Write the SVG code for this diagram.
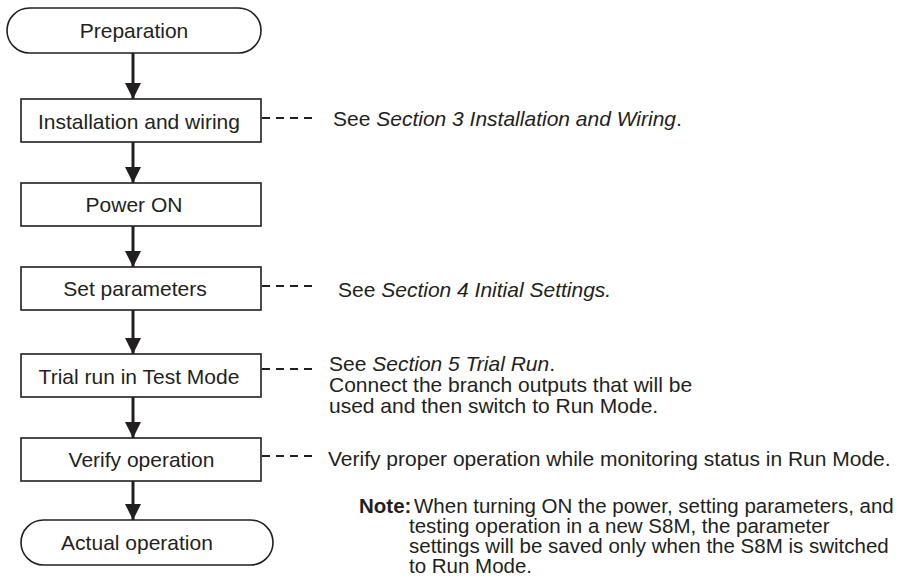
<svg xmlns="http://www.w3.org/2000/svg" width="903" height="579" viewBox="0 0 903 579">
<defs>
<style>
.shape{fill:#fff;stroke:#231f20;stroke-width:1.6}
.lbl{font-family:"Liberation Sans",Arial,Helvetica,sans-serif;font-size:21px;fill:#231f20;text-anchor:middle}
.txt{font-family:"Liberation Sans",Arial,Helvetica,sans-serif;font-size:21px;fill:#231f20}
.note{font-family:"Liberation Sans",Arial,Helvetica,sans-serif;font-size:20.5px;fill:#231f20}
.it{font-style:italic}
.flow{stroke:#231f20;stroke-width:3;fill:none}
.dash{stroke:#231f20;stroke-width:2.2;stroke-dasharray:8 6;fill:none}
</style>
<marker id="ah" viewBox="0 0 16 16" refX="16" refY="8" markerWidth="16" markerHeight="16" markerUnits="userSpaceOnUse" orient="auto">
<path d="M0,0 L16,8 L0,16 Z" fill="#231f20"/>
</marker>
</defs>
<rect width="903" height="579" fill="#fff"/>
<g id="connectors">
<line class="flow" x1="133" y1="53" x2="133" y2="99" marker-end="url(#ah)"/>
<line class="flow" x1="133" y1="142" x2="133" y2="183" marker-end="url(#ah)"/>
<line class="flow" x1="133" y1="226" x2="133" y2="267" marker-end="url(#ah)"/>
<line class="flow" x1="133" y1="310" x2="133" y2="354" marker-end="url(#ah)"/>
<line class="flow" x1="133" y1="397" x2="133" y2="438" marker-end="url(#ah)"/>
<line class="flow" x1="133" y1="481" x2="133" y2="520" marker-end="url(#ah)"/>
<line class="dash" x1="262" y1="118" x2="318" y2="118"/>
<line class="dash" x1="262" y1="286" x2="318" y2="286"/>
<line class="dash" x1="262" y1="369" x2="318" y2="369"/>
<line class="dash" x1="262" y1="456" x2="318" y2="456"/>
</g>
<g id="preparation">
<rect class="shape" x="7" y="8" width="254" height="45" rx="22.5"/>
<text class="lbl" x="134" y="38">Preparation</text>
</g>
<g id="installation">
<rect class="shape" x="21" y="99" width="240" height="43"/>
<text class="lbl" x="139" y="129">Installation and wiring</text>
</g>
<g id="power-on">
<rect class="shape" x="21" y="183" width="240" height="43"/>
<text class="lbl" x="134" y="212">Power ON</text>
</g>
<g id="set-parameters">
<rect class="shape" x="21" y="267" width="240" height="43"/>
<text class="lbl" x="135" y="296">Set parameters</text>
</g>
<g id="trial-run">
<rect class="shape" x="21" y="354" width="240" height="43"/>
<text class="lbl" x="139" y="384">Trial run in Test Mode</text>
</g>
<g id="verify-operation">
<rect class="shape" x="21" y="438" width="240" height="43"/>
<text class="lbl" x="141.5" y="467">Verify operation</text>
</g>
<g id="actual-operation">
<rect class="shape" x="21" y="520" width="252" height="45" rx="22.5"/>
<text class="lbl" x="137" y="550">Actual operation</text>
</g>
<g id="annotations">
<text class="txt" x="333" y="126">See <tspan class="it">Section 3 Installation and Wiring</tspan>.</text>
<text class="txt" x="338" y="297">See <tspan class="it">Section 4 Initial Settings.</tspan></text>
<text class="txt" x="329" y="371">See <tspan class="it">Section 5 Trial Run</tspan>.</text>
<text class="txt" x="329" y="392">Connect the branch outputs that will be</text>
<text class="txt" x="329" y="413">used and then switch to Run Mode.</text>
<text class="txt" x="328" y="466">Verify proper operation while monitoring status in Run Mode.</text>
<text class="note" x="359" y="513"><tspan font-weight="bold">Note:</tspan><tspan x="414">When turning ON the power, setting parameters, and</tspan></text>
<text class="note" x="409" y="533">testing operation in a new S8M, the parameter</text>
<text class="note" x="409" y="553">settings will be saved only when the S8M is switched</text>
<text class="note" x="409" y="573">to Run Mode.</text>
</g>
</svg>
